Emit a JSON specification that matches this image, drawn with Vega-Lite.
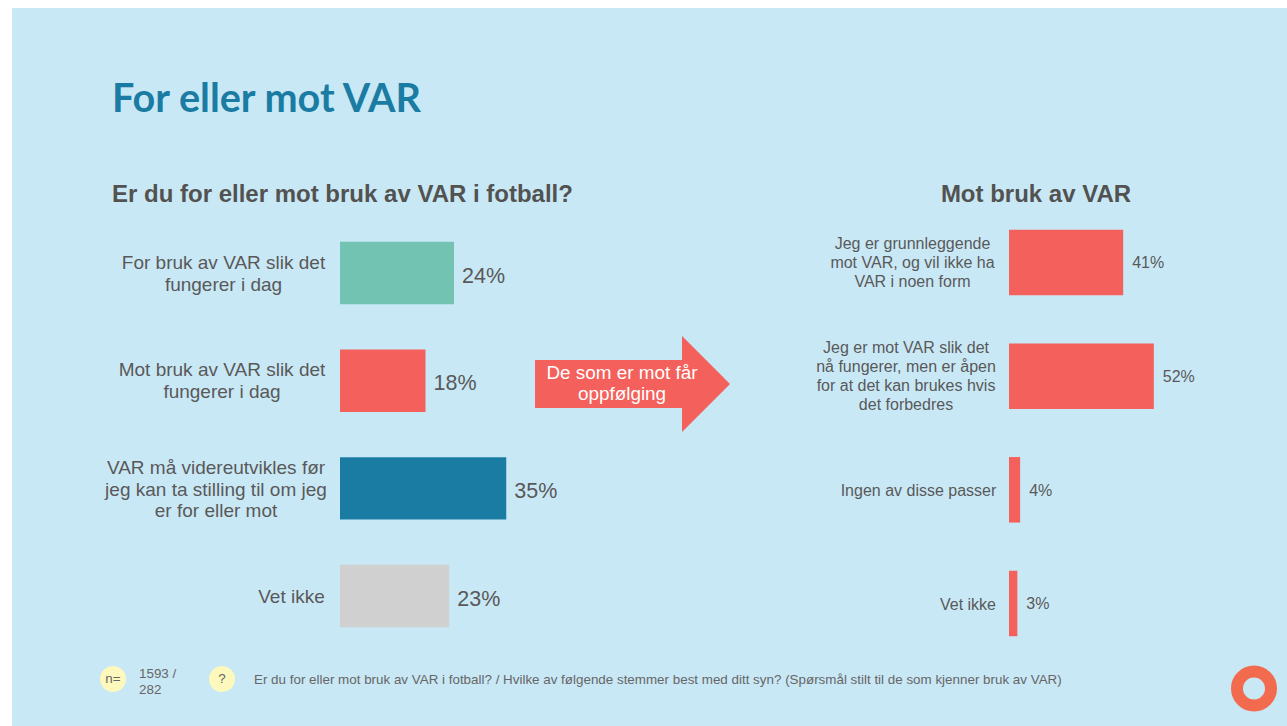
{
"$schema":"https://vega.github.io/schema/vega-lite/v6.json",
"width":1275,"height":718,
"padding":{"left":12,"top":8,"right":0,"bottom":0},
"autosize":{"type":"none"},
"background":"#FFFFFF",
"view":{"fill":"#C9E8F6","stroke":null},
"config":{"font":"Liberation Sans"},
"datasets":{
"left":[
{"n":1,"label":"For bruk av VAR slik det\nfungerer i dag","v":0.24,"group":"for"},
{"n":2,"label":"Mot bruk av VAR slik det\nfungerer i dag","v":0.18,"group":"mot"},
{"n":3,"label":"VAR må videreutvikles før\njeg kan ta stilling til om jeg\ner for eller mot","v":0.35,"group":"videre"},
{"n":4,"label":"Vet ikke","v":0.23,"group":"vet"}],
"right":[
{"n":1,"label":"Jeg er grunnleggende\nmot VAR, og vil ikke ha\nVAR i noen form","v":0.41},
{"n":2,"label":"Jeg er mot VAR slik det\nnå fungerer, men er åpen\nfor at det kan brukes hvis\ndet forbedres","v":0.52},
{"n":3,"label":"Ingen av disse passer","v":0.04},
{"n":4,"label":"Vet ikke","v":0.03}],
"note":[{"k":"n"}]
},
"resolve":{"scale":{"x":"independent","y":"independent","color":"independent"}},
"layer":[
{"data":{"name":"left"},
 "encoding":{
  "x":{"field":"v","type":"quantitative","axis":null,"scale":{"domain":[0,1],"range":[328,803],"nice":false}},
  "y":{"field":"n","type":"nominal","axis":null,"scale":{"domain":[1,2,3,4],"range":[211.2,641.9],"paddingInner":0.42,"paddingOuter":0.21}}},
 "layer":[
  {"mark":{"type":"bar","cornerRadius":0},
   "encoding":{"color":{"field":"group","type":"nominal","legend":null,"scale":{"domain":["for","mot","videre","vet"],"range":["#72C3B2","#F4605B","#1B7CA3","#D0D0D0"]}}}},
  {"mark":{"type":"text","align":"left","baseline":"middle","dx":8,"dy":3.5,"fontSize":21.5,"color":"#595959"},
   "encoding":{"text":{"field":"v","type":"quantitative","format":".0%"}}},
  {"transform":[{"filter":"datum.n==1"}],"mark":{"type":"text","align":"center","baseline":"middle","lineBreak":"\n","lineHeight":22,"dx":-116.5,"dy":-10,"fontSize":19,"color":"#595959"},
   "encoding":{"x":{"datum":0},"text":{"field":"label"}}},
  {"transform":[{"filter":"datum.n==2"}],"mark":{"type":"text","align":"center","baseline":"middle","lineBreak":"\n","lineHeight":22.5,"dx":-118,"dy":-11,"fontSize":19,"color":"#595959"},
   "encoding":{"x":{"datum":0},"text":{"field":"label"}}},
  {"transform":[{"filter":"datum.n==3"}],"mark":{"type":"text","align":"center","baseline":"middle","lineBreak":"\n","lineHeight":21.5,"dx":-124,"dy":-20,"fontSize":19,"color":"#595959"},
   "encoding":{"x":{"datum":0},"text":{"field":"label"}}},
  {"transform":[{"filter":"datum.n==4"}],"mark":{"type":"text","align":"center","baseline":"middle","lineBreak":"\n","lineHeight":22,"dx":-48.5,"dy":1,"fontSize":19,"color":"#595959"},
   "encoding":{"x":{"datum":0},"text":{"field":"label"}}}
 ]},
{"data":{"name":"right"},
 "encoding":{
  "x":{"field":"v","type":"quantitative","axis":null,"scale":{"domain":[0,1],"range":[997,1275.5],"nice":false}},
  "y":{"field":"n","type":"nominal","axis":null,"scale":{"domain":[1,2,3,4],"range":[197.67,652.3],"paddingInner":0.424,"paddingOuter":0.212}}},
 "layer":[
  {"mark":{"type":"bar","color":"#F4605B","cornerRadius":0}},
  {"mark":{"type":"text","align":"left","baseline":"middle","dx":9,"dy":1,"fontSize":16,"color":"#595959"},
   "encoding":{"text":{"field":"v","type":"quantitative","format":".0%"}}},
  {"transform":[{"filter":"datum.n==1"}],"mark":{"type":"text","align":"center","baseline":"middle","lineBreak":"\n","lineHeight":19,"dx":-96.5,"dy":-18,"fontSize":16,"color":"#595959"},
   "encoding":{"x":{"datum":0},"text":{"field":"label"}}},
  {"transform":[{"filter":"datum.n==2"}],"mark":{"type":"text","align":"center","baseline":"middle","lineBreak":"\n","lineHeight":19,"dx":-103,"dy":-28,"fontSize":16,"color":"#595959"},
   "encoding":{"x":{"datum":0},"text":{"field":"label"}}},
  {"transform":[{"filter":"datum.n==3"}],"mark":{"type":"text","align":"center","baseline":"middle","lineBreak":"\n","lineHeight":19,"dx":-90.5,"dy":1.5,"fontSize":16,"color":"#595959"},
   "encoding":{"x":{"datum":0},"text":{"field":"label"}}},
  {"transform":[{"filter":"datum.n==4"}],"mark":{"type":"text","align":"center","baseline":"middle","lineBreak":"\n","lineHeight":19,"dx":-41,"dy":1.5,"fontSize":16,"color":"#595959"},
   "encoding":{"x":{"datum":0},"text":{"field":"label"}}}
 ]},
{"data":{"name":"note"},
 "layer":[
  {"mark":{"type":"text","text":"For eller mot VAR","align":"left","baseline":"alphabetic","font":"Lato","fontWeight":"bold","fontSize":39.6,"color":"#1B7CA3"},
   "encoding":{"x":{"value":100},"y":{"value":104}}},
  {"mark":{"type":"text","text":"Er du for eller mot bruk av VAR i fotball?","align":"left","baseline":"alphabetic","fontWeight":"bold","fontSize":24,"color":"#525250"},
   "encoding":{"x":{"value":100},"y":{"value":194}}},
  {"mark":{"type":"text","text":"Mot bruk av VAR","align":"center","baseline":"alphabetic","fontWeight":"bold","fontSize":24,"color":"#525250"},
   "encoding":{"x":{"value":1024},"y":{"value":194}}},
  {"mark":{"type":"point","shape":"M-1,-0.246L0.508,-0.246L0.508,-0.492L1,0L0.508,0.492L0.508,0.246L-1,0.246Z","size":38025,"filled":true,"fill":"#F4605B","stroke":null,"opacity":1},
   "encoding":{"x":{"value":620.5},"y":{"value":376}}},
  {"mark":{"type":"text","text":"De som er mot får\noppfølging","lineBreak":"\n","lineHeight":21,"align":"center","baseline":"middle","fontSize":18.9,"color":"#FFFFFF"},
   "encoding":{"x":{"value":610},"y":{"value":365}}},
  {"mark":{"type":"circle","size":676,"color":"#FDF8BC","opacity":1},"encoding":{"x":{"value":101},"y":{"value":671}}},
  {"mark":{"type":"circle","size":676,"color":"#FDF8BC","opacity":1},"encoding":{"x":{"value":210},"y":{"value":671}}},
  {"mark":{"type":"text","text":"n=","align":"center","baseline":"middle","fontSize":13.4,"color":"#666666"},"encoding":{"x":{"value":101},"y":{"value":671}}},
  {"mark":{"type":"text","text":"?","align":"center","baseline":"middle","fontSize":13.4,"color":"#666666"},"encoding":{"x":{"value":210},"y":{"value":671}}},
  {"mark":{"type":"text","text":"1593 /\n282","lineBreak":"\n","lineHeight":15.5,"align":"left","baseline":"middle","fontSize":13.4,"color":"#666666"},"encoding":{"x":{"value":127},"y":{"value":666}}},
  {"mark":{"type":"text","text":"Er du for eller mot bruk av VAR i fotball? / Hvilke av følgende stemmer best med ditt syn? (Spørsmål stilt til de som kjenner bruk av VAR)","align":"left","baseline":"middle","fontSize":13.4,"color":"#666666"},"encoding":{"x":{"value":242},"y":{"value":672}}},
  {"mark":{"type":"point","shape":"circle","size":1156,"filled":false,"stroke":"#F26B4E","strokeWidth":12,"opacity":1},"encoding":{"x":{"value":1242},"y":{"value":680.5}}}
 ]}
]
}
